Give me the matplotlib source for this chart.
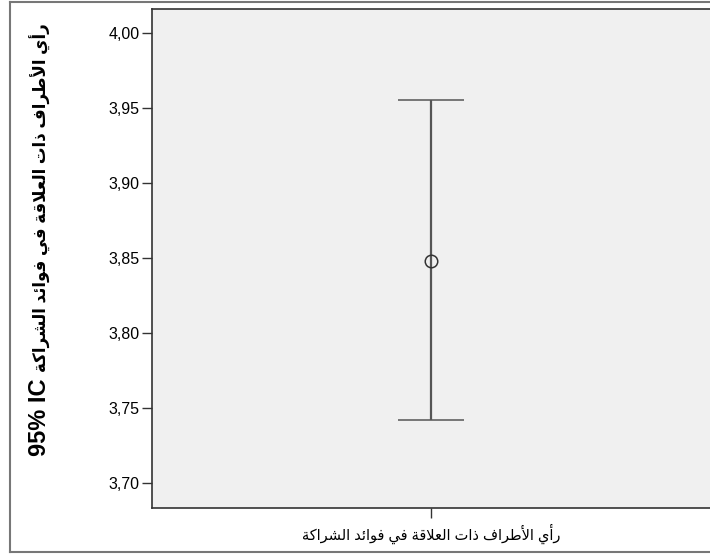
import matplotlib
matplotlib.use("Agg")
import matplotlib.pyplot as plt
from matplotlib.lines import Line2D
from matplotlib.ticker import FuncFormatter

# data (95% CI error bar)
categories = ["رأي الأطراف ذات العلاقة في فوائد الشراكة"]
means = [3.848]
lower = [3.742]
upper = [3.955]
y_ticks = [3.70, 3.75, 3.80, 3.85, 3.90, 3.95, 4.00]
y_prefix = "95% IC"
y_title = "رأي الأطراف ذات العلاقة في فوائد الشراكة"

# ---- tiny arabic shaper (no arabic_reshaper available) ----
# letter: (isolated, final, initial, medial); None = joins only to the right
FORMS = {
    "ا": ("\uFE8D", "\uFE8E", None, None),
    "أ": ("\uFE83", "\uFE84", None, None),
    "ر": ("\uFEAD", "\uFEAE", None, None),
    "ذ": ("\uFEAB", "\uFEAC", None, None),
    "د": ("\uFEA9", "\uFEAA", None, None),
    "و": ("\uFEED", "\uFEEE", None, None),
    "ة": ("\uFE93", "\uFE94", None, None),
    "ي": ("\uFEF1", "\uFEF2", "\uFEF3", "\uFEF4"),
    "ل": ("\uFEDD", "\uFEDE", "\uFEDF", "\uFEE0"),
    "ط": ("\uFEC1", "\uFEC2", "\uFEC3", "\uFEC4"),
    "ف": ("\uFED1", "\uFED2", "\uFED3", "\uFED4"),
    "ت": ("\uFE95", "\uFE96", "\uFE97", "\uFE98"),
    "ع": ("\uFEC9", "\uFECA", "\uFECB", "\uFECC"),
    "ق": ("\uFED5", "\uFED6", "\uFED7", "\uFED8"),
    "ئ": ("\uFE89", "\uFE8A", "\uFE8B", "\uFE8C"),
    "ش": ("\uFEB5", "\uFEB6", "\uFEB7", "\uFEB8"),
    "ك": ("\uFED9", "\uFEDA", "\uFEDB", "\uFEDC"),
    "لا": ("\uFEFB", "\uFEFC", None, None),
    "لأ": ("\uFEF7", "\uFEF8", None, None),
}


def shape_word(word):
    # split into units, merging lam-alef ligatures
    units = []
    i = 0
    while i < len(word):
        if word[i] == "ل" and i + 1 < len(word) and word[i + 1] in "اأ":
            units.append(word[i:i + 2])
            i += 2
        else:
            units.append(word[i])
            i += 1
    out = []
    for k, u in enumerate(units):
        iso, fin, ini, med = FORMS[u]
        prev_joins = k > 0 and FORMS[units[k - 1]][2] is not None
        next_joins = ini is not None and k + 1 < len(units)
        if prev_joins and next_joins:
            out.append(med)
        elif prev_joins:
            out.append(fin)
        elif next_joins:
            out.append(ini)
        else:
            out.append(iso)
    return "".join(out)


def arabic(text):
    shaped = " ".join(shape_word(w) for w in text.split(" "))
    return shaped[::-1]  # visual order, right to left


fonts = ["Liberation Sans", "DejaVu Sans"]
plt.rcParams["font.family"] = fonts

fig = plt.figure(figsize=(7.1, 5.54), dpi=100)
ax = fig.add_axes([152 / 710, 1 - 508 / 554, 1 - 152 / 710, 499 / 554])
ax.set_facecolor("#f0f0f0")

x = list(range(len(categories)))
err_lo = [m - l for m, l in zip(means, lower)]
err_hi = [u - m for m, u in zip(means, upper)]
ax.errorbar(x, means, yerr=[err_lo, err_hi], fmt="o", color="#555555",
            ecolor="#555555", elinewidth=1.6, capsize=24, capthick=1.6,
            markersize=9, markerfacecolor="none", markeredgecolor="#333333",
            markeredgewidth=1.1)

ax.set_xlim(-1, 1)
ax.set_ylim(3.683, 4.016)
ax.set_yticks(y_ticks)
ax.yaxis.set_major_formatter(FuncFormatter(lambda v, p: f"{v:.2f}".replace(".", ",")))
ax.set_xticks(x)
ax.set_xticklabels([arabic(c) for c in categories], fontsize=10.5)
ax.tick_params(axis="y", length=7, width=1, color="#333333", labelsize=11.5, pad=2)
ax.tick_params(axis="x", length=7, width=1, color="#333333", pad=4)

for side in ["left", "top", "bottom"]:
    ax.spines[side].set_color("#333333")
    ax.spines[side].set_linewidth(1.2)
ax.spines["right"].set_visible(False)

# y title: latin part larger than the arabic part, as in the SPSS output
fig.text(40 / 710, 1 - 456 / 554, y_prefix, rotation=90, ha="center", va="bottom",
         fontsize=17, fontweight="bold")
fig.text(40 / 710, 1 - 372 / 554, arabic(y_title), rotation=90, ha="center",
         va="bottom", fontsize=12.0, fontweight="bold")

# outer frame of the SPSS output
frame_kw = dict(color="#777777", linewidth=1.5, transform=fig.transFigure)
fig.add_artist(Line2D([10 / 710, 10 / 710], [1 - 552 / 554, 1 - 1.5 / 554], **frame_kw))
fig.add_artist(Line2D([10 / 710, 1], [1 - 552 / 554, 1 - 552 / 554], **frame_kw))
fig.add_artist(Line2D([10 / 710, 1], [1 - 1.5 / 554, 1 - 1.5 / 554], **frame_kw))

fig.savefig("out.png", dpi=100)
